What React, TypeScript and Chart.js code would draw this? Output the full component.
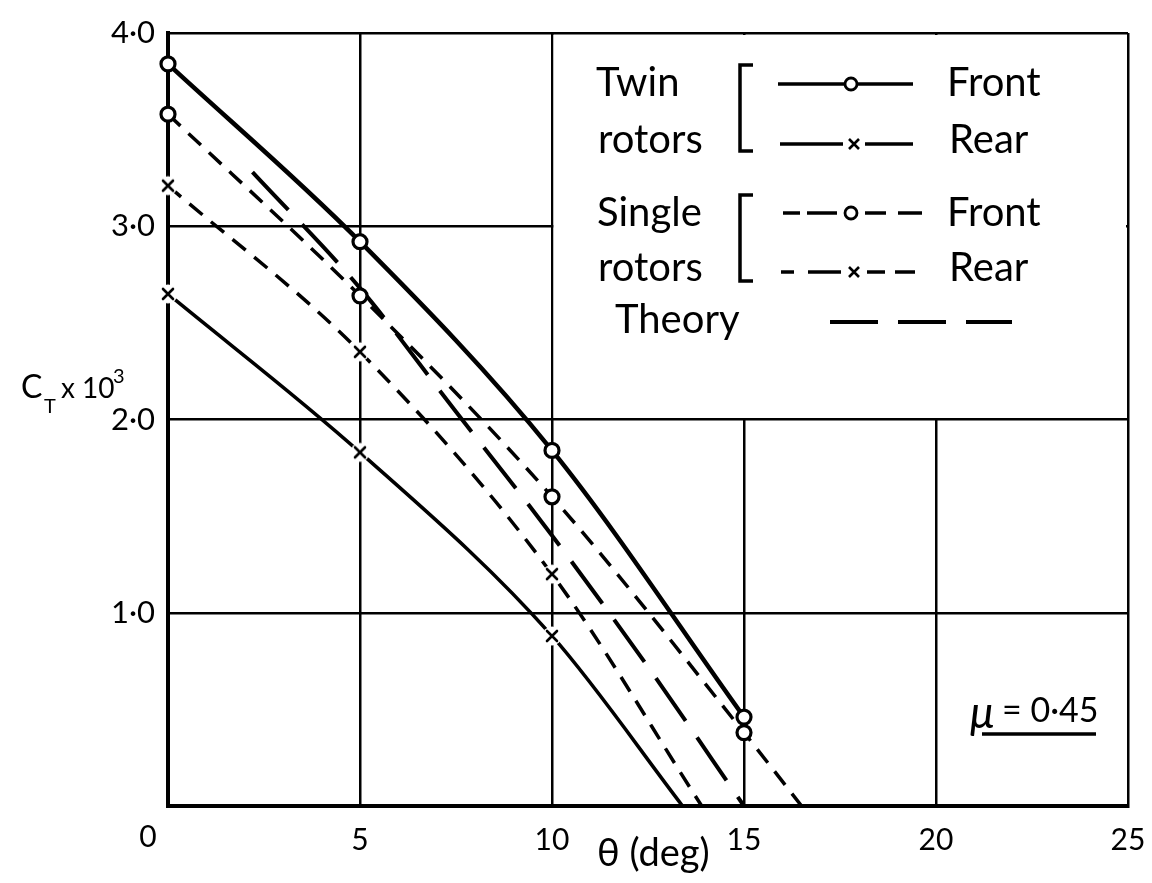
import React, { useEffect, useRef } from 'react';
import { Chart, registerables } from 'chart.js';

Chart.register(...registerables);

// ---------- data ----------
const xTickValues = [0, 5, 10, 15, 20, 25];
const xTickLabels = ['0', '5', '10', '15', '20', '25'];
const yTickValues = [0, 1, 2, 3, 4];
const yTickLabels = ['', '1·0', '2·0', '3·0', '4·0'];

const twinFrontX = [0, 5, 10, 15];
const twinFrontY = [3.84, 2.92, 1.84, 0.46];
const twinFrontMarked = [true, true, true, true];

const twinRearX = [0, 5, 10, 13.4];
const twinRearY = [2.65, 1.83, 0.88, 0];
const twinRearMarked = [true, true, true, false];

const singleFrontX = [0, 5, 10, 15, 16.5];
const singleFrontY = [3.58, 2.64, 1.6, 0.38, 0];
const singleFrontMarked = [true, true, true, true, false];

const singleRearX = [0, 5, 10, 13.9];
const singleRearY = [3.21, 2.35, 1.2, 0];
const singleRearMarked = [true, true, true, false];

const theoryX = [2.2, 5, 7.5, 10, 12.5, 15];
const theoryY = [3.28, 2.68, 2.04, 1.4, 0.72, 0];

const groupTwin = ['Twin', 'rotors'];
const groupSingle = ['Single', 'rotors'];
const labelFront = 'Front';
const labelRear = 'Rear';
const labelTheory = 'Theory';
const muSymbol = 'μ';
const muValue = '= 0·45';
const xTitleText = 'θ (deg)';
const yTitleMain = 'C';
const yTitleSub = 'T';
const yTitleMid = 'x 10';
const yTitleSup = '3';

const FONT = 'Lato, "DejaVu Sans", sans-serif';
const INK = '#000';

const toPoints = (xs: number[], ys: number[]) => xs.map((x, i) => ({ x, y: ys[i] }));

function makeXMarker(): HTMLCanvasElement {
  const c = document.createElement('canvas');
  c.width = 22;
  c.height = 22;
  const g = c.getContext('2d')!;
  g.fillStyle = '#fff';
  g.beginPath();
  g.arc(11, 11, 9.5, 0, Math.PI * 2);
  g.fill();
  g.strokeStyle = INK;
  g.lineWidth = 2.6;
  g.lineCap = 'round';
  g.beginPath();
  g.moveTo(6, 6);
  g.lineTo(16, 16);
  g.moveTo(16, 6);
  g.lineTo(6, 16);
  g.stroke();
  return c;
}

const decorPlugin = {
  id: 'decor',
  beforeDatasetsDraw(chart: any) {
    const { ctx, scales } = chart;
    const x = scales.x;
    const y = scales.y;
    const l = x.getPixelForValue(10) + 1.5;
    const r = x.getPixelForValue(25) - 2;
    const t = y.getPixelForValue(4) + 2;
    const b = y.getPixelForValue(2) - 1.5;
    ctx.save();
    ctx.fillStyle = '#fff';
    ctx.fillRect(l, t, r - l, b - t);
    ctx.restore();
  },
  afterDraw(chart: any) {
    const { ctx, scales } = chart;
    const x = scales.x;
    const y = scales.y;
    const L = x.getPixelForValue(10);
    const T = y.getPixelForValue(4);
    ctx.save();
    ctx.fillStyle = INK;
    ctx.strokeStyle = INK;
    ctx.textBaseline = 'alphabetic';
    ctx.textAlign = 'left';

    // group texts
    ctx.font = `40px ${FONT}`;
    ctx.fillText(groupTwin[0], L + 44, T + 63);
    ctx.fillText(groupTwin[1], L + 46, T + 120);
    ctx.fillText(groupSingle[0], L + 45, T + 193);
    ctx.fillText(groupSingle[1], L + 46, T + 248);
    ctx.fillText(labelTheory, L + 63, T + 300);
    // right labels
    ctx.fillText(labelFront, L + 395, T + 63);
    ctx.fillText(labelRear, L + 397, T + 120);
    ctx.fillText(labelFront, L + 395, T + 193);
    ctx.fillText(labelRear, L + 397, T + 248);

    // brackets
    ctx.lineWidth = 3.5;
    ctx.lineJoin = 'miter';
    const bracket = (y0: number, y1: number) => {
      ctx.beginPath();
      ctx.moveTo(L + 201, y0);
      ctx.lineTo(L + 188, y0);
      ctx.lineTo(L + 188, y1);
      ctx.lineTo(L + 201, y1);
      ctx.stroke();
    };
    bracket(T + 32, T + 118);
    bracket(T + 162, T + 248);

    const seg = (a: number, b: number, yy: number, w = 3.5) => {
      ctx.lineWidth = w;
      ctx.beginPath();
      ctx.moveTo(L + a, yy);
      ctx.lineTo(L + b, yy);
      ctx.stroke();
    };
    const circ = (cx: number, yy: number) => {
      ctx.beginPath();
      ctx.arc(L + cx, yy, 6, 0, Math.PI * 2);
      ctx.fillStyle = '#fff';
      ctx.fill();
      ctx.lineWidth = 2.8;
      ctx.stroke();
      ctx.fillStyle = INK;
    };
    const cross = (cx: number, yy: number) => {
      ctx.lineWidth = 2.6;
      ctx.beginPath();
      ctx.moveTo(L + cx - 5, yy - 5);
      ctx.lineTo(L + cx + 5, yy + 5);
      ctx.moveTo(L + cx + 5, yy - 5);
      ctx.lineTo(L + cx - 5, yy + 5);
      ctx.stroke();
    };
    // row 1: twin front
    const r1 = T + 51;
    seg(226, 361, r1);
    circ(299, r1);
    // row 2: twin rear
    const r2 = T + 111;
    seg(228, 291, r2);
    seg(313, 361, r2);
    cross(302, r2);
    // row 3: single front
    const r3 = T + 180;
    seg(231, 248, r3);
    seg(255, 285, r3);
    circ(299, r3);
    seg(313, 334, r3);
    seg(346, 370, r3);
    // row 4: single rear
    const r4 = T + 239;
    seg(229, 242, r4);
    seg(256, 289, r4);
    cross(302, r4);
    seg(315, 333, r4);
    seg(343, 363, r4);
    // theory
    const r5 = T + 289;
    seg(278, 326, r5, 4);
    seg(346, 394, r5, 4);
    seg(414, 460, r5, 4);

    // mu label
    ctx.font = `italic 44px ${FONT}`;
    ctx.fillText(muSymbol, 970, 728);
    ctx.font = `34px ${FONT}`;
    ctx.fillText(muValue, 1002, 722);
    ctx.lineWidth = 3.5;
    ctx.beginPath();
    ctx.moveTo(982, 734);
    ctx.lineTo(1096, 734);
    ctx.stroke();

    // x title
    ctx.font = `38px ${FONT}`;
    ctx.fillText(xTitleText, 597, 866);

    // y title
    ctx.font = `32px ${FONT}`;
    ctx.fillText(yTitleMain, 21, 398);
    ctx.font = `20px ${FONT}`;
    ctx.fillText(yTitleSub, 44, 413);
    ctx.font = `28px ${FONT}`;
    ctx.fillText(yTitleMid, 61, 398);
    ctx.font = `20px ${FONT}`;
    ctx.fillText(yTitleSup, 113, 383);

    // x tick "0" (offset to the left of the origin)
    ctx.font = `30px ${FONT}`;
    ctx.textAlign = 'center';
    ctx.textBaseline = 'top';
    ctx.fillText(xTickLabels[0], x.getPixelForValue(0) - 20, x.top + 16);
    ctx.restore();
  },
};

export default function App() {
  const ref = useRef<HTMLCanvasElement>(null);
  useEffect(() => {
    if (!ref.current) return;
    const xMark = makeXMarker();
    const circleMarkerOpts = (marked: boolean[]) => ({
      pointStyle: 'circle',
      pointRadius: marked.map((m) => (m ? 7 : 0)),
      pointBorderWidth: 3.2,
      pointBackgroundColor: '#fff',
      pointBorderColor: INK,
    });
    const crossMarkerOpts = (marked: boolean[]) => ({
      pointStyle: xMark,
      pointRadius: marked.map((m) => (m ? 7 : 0)),
      pointBorderWidth: 0,
      pointBackgroundColor: '#fff',
      pointBorderColor: INK,
    });
    const chart = new Chart(ref.current, {
      type: 'scatter',
      data: {
        datasets: [
          {
            label: 'Twin rotors Front',
            data: toPoints(twinFrontX, twinFrontY),
            showLine: true,
            borderColor: INK,
            borderWidth: 4.5,
            cubicInterpolationMode: 'monotone',
            clip: false,
            order: 0,
            ...circleMarkerOpts(twinFrontMarked),
          } as any,
          {
            label: 'Single rotors Front',
            data: toPoints(singleFrontX, singleFrontY),
            showLine: true,
            borderColor: INK,
            borderWidth: 3.5,
            borderDash: [17, 11],
            cubicInterpolationMode: 'monotone',
            clip: false,
            order: 1,
            ...circleMarkerOpts(singleFrontMarked),
          } as any,
          {
            label: 'Twin rotors Rear',
            data: toPoints(twinRearX, twinRearY),
            showLine: true,
            borderColor: INK,
            borderWidth: 3.5,
            cubicInterpolationMode: 'monotone',
            clip: false,
            order: 2,
            ...crossMarkerOpts(twinRearMarked),
          } as any,
          {
            label: 'Single rotors Rear',
            data: toPoints(singleRearX, singleRearY),
            showLine: true,
            borderColor: INK,
            borderWidth: 3.5,
            borderDash: [17, 11],
            cubicInterpolationMode: 'monotone',
            clip: false,
            order: 3,
            ...crossMarkerOpts(singleRearMarked),
          } as any,
          {
            label: 'Theory',
            data: toPoints(theoryX, theoryY),
            showLine: true,
            borderColor: INK,
            borderWidth: 4,
            borderDash: [52, 20],
            cubicInterpolationMode: 'monotone',
            pointRadius: 0,
            clip: false,
            order: 4,
          } as any,
        ],
      },
      options: {
        responsive: false,
        animation: false,
        events: [],
        layout: { padding: { left: 0, top: 33, right: 24, bottom: 0 } },
        plugins: {
          legend: { display: false },
          tooltip: { enabled: false },
          title: { display: false },
        },
        scales: {
          x: {
            type: 'linear',
            min: 0,
            max: 25,
            afterFit: (s: any) => {
              s.height = 77;
              s.paddingLeft = 0;
              s.paddingRight = 0;
            },
            afterBuildTicks: (s: any) => {
              s.ticks = xTickValues.map((v) => ({ value: v }));
            },
            ticks: {
              autoSkip: false,
              maxRotation: 0,
              padding: 16,
              color: INK,
              font: { family: FONT, size: 30 },
              callback: (v: any) => {
                const i = xTickValues.indexOf(Number(v));
                return i <= 0 ? '' : xTickLabels[i];
              },
            },
            grid: { color: INK, lineWidth: 2.5, drawTicks: false },
            border: { display: true, color: INK, width: 4 },
          },
          y: {
            type: 'linear',
            min: 0,
            max: 4,
            afterFit: (s: any) => {
              s.width = 168;
              s.paddingTop = 0;
              s.paddingBottom = 0;
            },
            afterBuildTicks: (s: any) => {
              s.ticks = yTickValues.map((v) => ({ value: v }));
            },
            ticks: {
              autoSkip: false,
              padding: 13,
              color: INK,
              font: { family: FONT, size: 31 },
              callback: (v: any) => {
                const i = yTickValues.indexOf(Number(v));
                return i < 0 ? '' : yTickLabels[i];
              },
            },
            grid: { color: INK, lineWidth: 2.5, drawTicks: false },
            border: { display: true, color: INK, width: 4 },
          },
        },
      } as any,
      plugins: [decorPlugin],
    });
    return () => chart.destroy();
  }, []);
  return (
    <canvas
      ref={ref}
      width={1152}
      height={883}
      style={{ position: 'absolute', left: 0, top: 0, display: 'block', background: '#fff' }}
    />
  );
}
